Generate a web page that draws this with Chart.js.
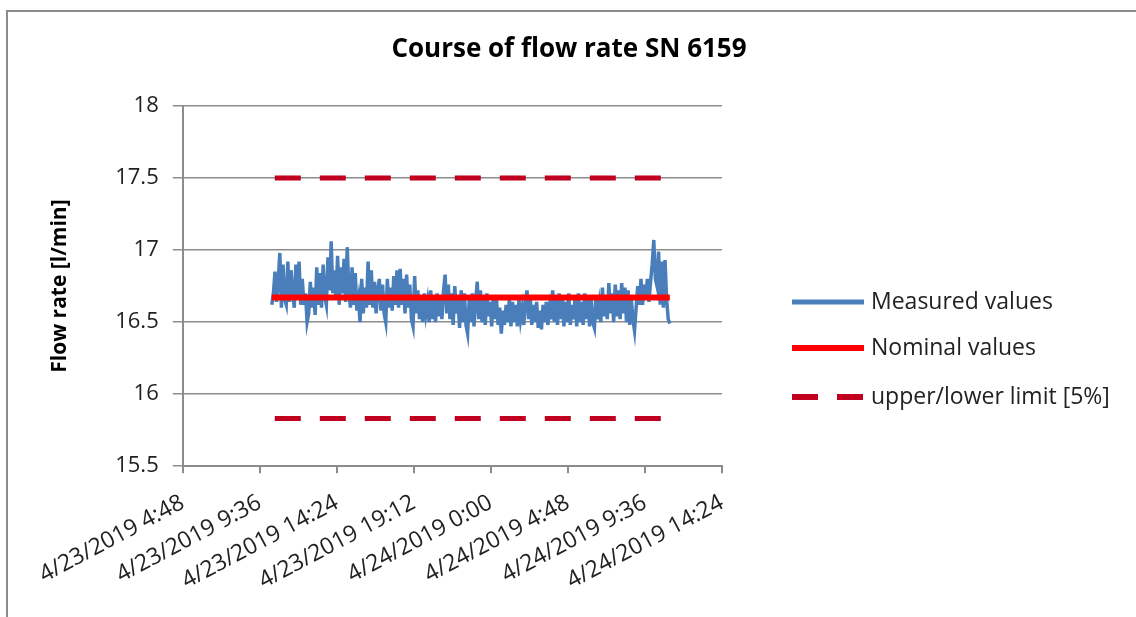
<!DOCTYPE html>
<html>
<head>
<meta charset="utf-8">
<script src="https://cdn.jsdelivr.net/npm/chart.js@4.4.1/dist/chart.umd.min.js"></script>
<style>
  html, body { margin: 0; padding: 0; background: #fff; }
  #wrap { position: relative; width: 1136px; height: 617px; }
</style>
</head>
<body>
<div id="wrap"><canvas id="flowChart"></canvas></div>
<script>
// x axis in minutes since 4/23/2019 0:00
const tickLabels = ['4/23/2019 4:48', '4/23/2019 9:36', '4/23/2019 14:24', '4/23/2019 19:12',
                    '4/24/2019 0:00', '4/24/2019 4:48', '4/24/2019 9:36', '4/24/2019 14:24'];
const xMin = 288, xMax = 2304, xStep = 288;
const yTicks = [15.5, 16, 16.5, 17, 17.5, 18];

// measured values, one sample every 6 minutes starting at 10:21
const measuredStart = 621;
const measuredStep = 6;
const measured = [
  16.62, 16.70, 16.85, 16.64, 16.78, 16.98, 16.60, 16.90, 16.66, 16.62,
  16.92, 16.64, 16.86, 16.70, 16.60, 16.90, 16.66, 16.92, 16.62, 16.80,
  16.62, 16.70, 16.50, 16.56, 16.78, 16.60, 16.74, 16.55, 16.88, 16.62,
  16.84, 16.60, 16.90, 16.68, 16.62, 16.95, 16.72, 17.06, 16.70, 16.86,
  16.66, 16.96, 16.62, 16.88, 16.70, 16.94, 16.64, 17.02, 16.72, 16.60,
  16.88, 16.62, 16.84, 16.58, 16.66, 16.50, 16.80, 16.56, 16.74, 16.60,
  16.92, 16.62, 16.86, 16.60, 16.78, 16.56, 16.72, 16.80, 16.58, 16.76,
  16.56, 16.50, 16.80, 16.60, 16.74, 16.58, 16.82, 16.62, 16.86, 16.60,
  16.87, 16.62, 16.80, 16.56, 16.83, 16.60, 16.76, 16.52, 16.47, 16.82,
  16.56, 16.72, 16.52, 16.66, 16.50, 16.70, 16.56, 16.64, 16.50, 16.72,
  16.52, 16.68, 16.50, 16.70, 16.54, 16.66, 16.52, 16.72, 16.83, 16.56,
  16.76, 16.52, 16.70, 16.48, 16.75, 16.56, 16.66, 16.46, 16.72, 16.50,
  16.70, 16.48, 16.42, 16.66, 16.50, 16.70, 16.47, 16.64, 16.78, 16.52,
  16.72, 16.50, 16.66, 16.48, 16.70, 16.54, 16.64, 16.47, 16.68, 16.52,
  16.66, 16.48, 16.60, 16.42, 16.58, 16.48, 16.62, 16.50, 16.66, 16.47,
  16.64, 16.50, 16.62, 16.47, 16.66, 16.52, 16.60, 16.48, 16.64, 16.72,
  16.52, 16.68, 16.48, 16.62, 16.50, 16.64, 16.46, 16.58, 16.45, 16.62,
  16.50, 16.64, 16.48, 16.60, 16.52, 16.72, 16.50, 16.66, 16.48, 16.70,
  16.52, 16.68, 16.47, 16.64, 16.50, 16.70, 16.48, 16.62, 16.52, 16.68,
  16.47, 16.70, 16.50, 16.64, 16.48, 16.70, 16.52, 16.66, 16.47, 16.66,
  16.50, 16.46, 16.68, 16.52, 16.62, 16.50, 16.74, 16.54, 16.68, 16.52,
  16.77, 16.56, 16.70, 16.50, 16.76, 16.54, 16.72, 16.52, 16.77, 16.56,
  16.74, 16.50, 16.72, 16.48, 16.66, 16.52, 16.44, 16.60, 16.75, 16.62,
  16.80, 16.62, 16.76, 16.66, 16.80, 16.64, 16.78, 16.90, 17.07, 16.80,
  16.75, 16.99, 16.62, 16.92, 16.60, 16.93, 16.66, 16.52, 16.49
];
const nominal = 16.67;
const upperLimit = 17.5;
const lowerLimit = 15.83;

const measuredPoints = measured.map((v, i) => ({ x: measuredStart + i * measuredStep, y: v }));
const measuredEnd = measuredStart + (measured.length - 1) * measuredStep;
const flat = (v) => [{ x: measuredStart, y: v }, { x: measuredEnd, y: v }];

const FONT = '"Open Sans", "DejaVu Sans", sans-serif';

// frame, title and legend drawn by hand to match the spreadsheet look
const framePlugin = {
  id: 'frame',
  beforeDraw(chart) {
    const ctx = chart.ctx;
    ctx.save();
    ctx.fillStyle = '#fff';
    ctx.fillRect(0, 0, chart.width, chart.height);
    ctx.strokeStyle = '#8c8c8c';
    ctx.lineWidth = 2;
    ctx.beginPath();
    ctx.moveTo(7, chart.height);
    ctx.lineTo(7, 11);
    ctx.lineTo(chart.width, 11);
    ctx.stroke();
    ctx.fillStyle = '#000';
    ctx.font = 'bold 26px ' + FONT;
    ctx.textAlign = 'center';
    ctx.textBaseline = 'middle';
    ctx.fillText('Course of flow rate SN 6159', 569, 50);
    ctx.restore();
  },
  afterDraw(chart) {
    const ctx = chart.ctx;
    const items = [
      { ds: chart.data.datasets[0], y: 302 },
      { ds: chart.data.datasets[1], y: 348 },
      { ds: chart.data.datasets[2], y: 397 }
    ];
    ctx.save();
    items.forEach(it => {
      ctx.strokeStyle = it.ds.borderColor;
      ctx.lineWidth = it.ds.legendWidth;
      ctx.setLineDash(it.ds.borderDash || []);
      ctx.beginPath();
      ctx.moveTo(792, it.y);
      ctx.lineTo(864, it.y);
      ctx.stroke();
      ctx.setLineDash([]);
      ctx.fillStyle = '#222';
      ctx.font = '23px ' + FONT;
      ctx.textAlign = 'left';
      ctx.textBaseline = 'middle';
      ctx.fillText(it.ds.label, 871, it.y);
    });
    ctx.restore();
  }
};

new Chart(document.getElementById('flowChart'), {
  type: 'line',
  data: {
    datasets: [
      {
        label: 'Measured values',
        data: measuredPoints,
        borderColor: '#4a7ebb',
        borderWidth: 3.5,
        legendWidth: 5,
        pointRadius: 0,
        tension: 0,
        order: 2
      },
      {
        label: 'Nominal values',
        data: flat(nominal),
        borderColor: '#ff0000',
        borderWidth: 6,
        legendWidth: 6,
        pointRadius: 0,
        order: 1
      },
      {
        label: 'upper/lower limit [5%]',
        data: flat(upperLimit),
        borderColor: '#c0001e',
        borderWidth: 5,
        legendWidth: 6,
        borderDash: [26, 19],
        borderDashOffset: -3,
        pointRadius: 0,
        order: 0
      },
      {
        label: 'lower',
        data: flat(lowerLimit),
        borderColor: '#c0001e',
        borderWidth: 5,
        borderDash: [26, 19],
        borderDashOffset: -3,
        pointRadius: 0,
        order: 0
      }
    ]
  },
  options: {
    responsive: true,
    maintainAspectRatio: false,
    animation: false,
    layout: { padding: { left: 47, right: 414, top: 106, bottom: 6 } },
    plugins: {
      legend: { display: false },
      tooltip: { enabled: false },
      title: { display: false }
    },
    scales: {
      x: {
        type: 'linear',
        min: xMin,
        max: xMax,
        afterBuildTicks(axis) {
          axis.ticks = tickLabels.map((_, i) => ({ value: xMin + i * xStep }));
        },
        ticks: {
          maxRotation: 28,
          minRotation: 28,
          autoSkip: false,
          padding: 16,
          color: '#222',
          font: { family: FONT, size: 23 },
          callback: (v, i) => tickLabels[i]
        },
        grid: { drawOnChartArea: false, drawTicks: true, tickLength: 7, color: '#8c8c8c', lineWidth: 2 },
        border: { color: '#8c8c8c', width: 2 }
      },
      y: {
        min: yTicks[0],
        max: yTicks[yTicks.length - 1],
        afterBuildTicks(axis) {
          axis.ticks = yTicks.map(v => ({ value: v }));
        },
        ticks: {
          color: '#222',
          font: { family: FONT, size: 22 },
          padding: 14,
          callback: (v) => String(v)
        },
        grid: { color: '#8c8c8c', lineWidth: 1.5, tickLength: 10 },
        border: { color: '#8c8c8c', width: 2 },
        title: {
          display: true,
          text: 'Flow rate [l/min]',
          color: '#000',
          font: { family: FONT, size: 21, weight: 'bold' },
          padding: { top: 0, bottom: 29 }
        }
      }
    }
  },
  plugins: [framePlugin]
});
</script>
</body>
</html>
